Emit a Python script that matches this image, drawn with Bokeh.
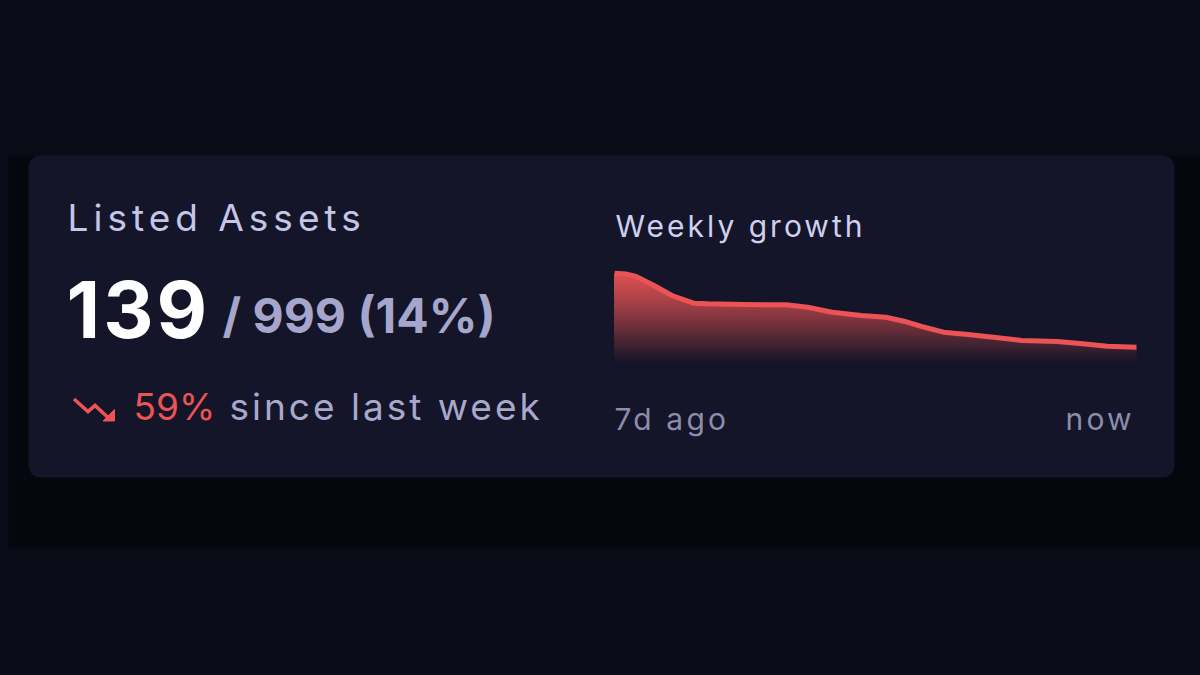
from bokeh.plotting import figure
from bokeh.models import Range1d, GlobalInlineStyleSheet, InlineStyleSheet, GridBox
from bokeh.core.properties import value
from bokeh.embed import file_html
from bokeh.resources import INLINE

# ---------------- data ----------------
days = [0.0, 0.15, 0.29, 0.53, 0.77, 1.06, 1.25, 1.73, 2.30, 2.59, 2.92, 3.31,
        3.64, 3.88, 4.12, 4.41, 4.74, 5.08, 5.46, 5.94, 6.28, 6.61, 7.0]
growth = [89.3, 88.6, 86.0, 77.0, 67.0, 59.3, 58.7, 58.0, 57.7, 55.3, 50.3, 47.0,
          45.3, 41.3, 36.0, 30.3, 28.0, 25.3, 22.0, 21.0, 18.7, 16.3, 15.3]
x_labels = ["7d ago", "now"]
title = "Listed Assets"
listed = "139"
total_txt = "/ 999 (14%)"
change_txt = "59%"
change_rest = "since last week"
spark_title = "Weekly growth"

# ---------------- layout (page px, y downwards) ----------------
W, H = 1200, 675
BG = "#0b0b18"
DARK = "#06060f"
CARD = "#141528"
RED = "#eb5354"
FONT = "Inter"

CH_L, CH_R = 614, 1136        # sparkline horizontal extent (page px)
CH_BASE, CH_TOP = 362, 272    # page y of value 0 and value V_TOP
V_TOP = 90.0


def make_fig(spacing=None, base=False):
    f = figure(width=W, height=H, output_backend="svg", toolbar_location=None,
               x_range=Range1d(0, W), y_range=Range1d(H, 0),
               x_axis_location=None, y_axis_location=None,
               min_border=0, outline_line_color=None,
               background_fill_color=BG, border_fill_color=BG)
    f.grid.visible = False
    sheets = []
    if base:
        sheets.append(GlobalInlineStyleSheet(css=f"body {{ background: {BG}; }}"))
    else:
        f.background_fill_alpha = 0
        f.border_fill_alpha = 0
    sheets.append(InlineStyleSheet(css=f":host {{ letter-spacing: {spacing or 0}px; }}"))
    f.stylesheets = sheets
    return f


p = make_fig(base=True)

# ranges for sparkline (data -> screen through the library's scales)
ppd = (CH_R - CH_L) / (days[-1] - days[0])
p.extra_x_ranges["days"] = Range1d(days[0] - CH_L / ppd, days[0] + (W - CH_L) / ppd)
ppv = (CH_BASE - CH_TOP) / V_TOP
p.extra_y_ranges["val"] = Range1d(-(H - CH_BASE) / ppv, CH_BASE / ppv)

# dark backdrop and card
p.quad(left=8, right=W, top=155, bottom=548, fill_color=DARK, line_color=None)
p.quad(left=28, right=1174, top=155, bottom=477,
       fill_color=CARD, line_color=None, border_radius=12)

# gradient fill under the line (stacked horizontal bands)
top_rgb = (222, 80, 82)
bot_rgb = (20, 21, 40)
N = 60
for i in range(N):
    a = V_TOP * i / N
    t = 1 - (a + V_TOP / N / 2) / V_TOP   # 0 at top, 1 at bottom
    t = t ** 1.15
    c = tuple(int(round(top_rgb[k] * (1 - t) + bot_rgb[k] * t)) for k in range(3))
    p.quad(left=days[0], right=days[-1], bottom=a, top=V_TOP,
           fill_color="#%02x%02x%02x" % c, line_color=None,
           x_range_name="days", y_range_name="val")

# cover above the line with card colour (stroked to hide seams)
cover_x = days + [days[-1], days[0]]
cover_y = growth + [V_TOP + 6, V_TOP + 6]
p.patch(x=cover_x, y=cover_y, fill_color=CARD, line_color=CARD, line_width=2,
        x_range_name="days", y_range_name="val")
p.line(x=days, y=growth, line_color=RED, line_width=5, line_join="round",
       x_range_name="days", y_range_name="val")


def txt(f, x, y, s, size, color, style="normal", align="left"):
    f.text(x=[x], y=[y], text=[s], text_font=value(FONT),
           text_font_size=value(f"{size}px"), text_color=color,
           text_font_style=style, text_align=align, text_baseline="alphabetic")


# texts without extra spacing
txt(p, 222, 333 - 18, total_txt, 48, "#a6a6cc", "bold")
txt(p, 133, 420 - 14, change_txt, 37, RED)

# trending-down icon
p.line(x=[73.5, 87.5, 94.5, 107], y=[398.5, 411, 405, 416.5],
       line_color=RED, line_width=3.6, line_join="miter")
p.patch(x=[102.5, 114, 114], y=[420.5, 420.5, 409],
        fill_color=RED, line_color=RED, line_width=1)

# letter-spaced texts on transparent overlays
oa = make_fig(spacing=5.0)
txt(oa, 67, 232 - 15, title, 37, "#c5c5e8")

ob = make_fig(spacing=3.0)
txt(ob, 229, 420 - 14, change_rest, 37, "#a8a8cc")
txt(ob, 615, 238 - 13, spark_title, 30, "#cfcfee")
txt(ob, 66, 338 - 29, listed, 78, "#ffffff", "bold")

oc = make_fig(spacing=3.2)
txt(oc, 614, 430 - 12, x_labels[0], 30, "#8c8cab")
txt(oc, 1065, 430 - 12, x_labels[1], 30, "#8c8cab")

layout = GridBox(children=[(p, 0, 0), (oa, 0, 0), (ob, 0, 0), (oc, 0, 0)])

open("out.html", "w").write(file_html(layout, INLINE))
